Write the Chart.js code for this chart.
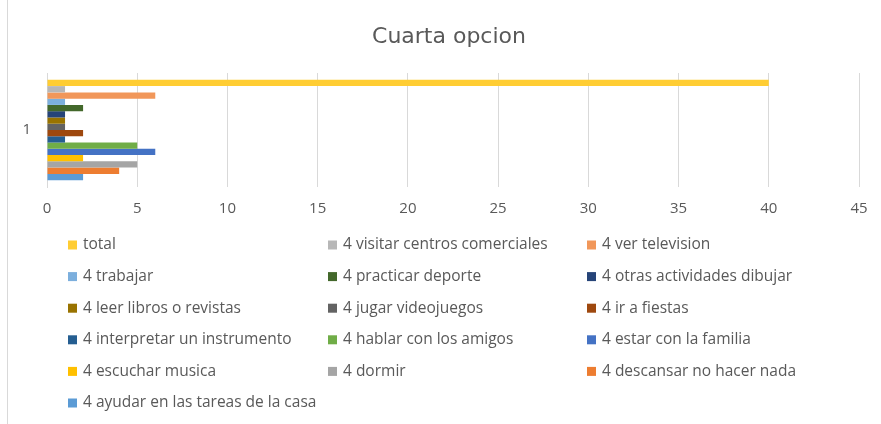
<!DOCTYPE html>
<html>
<head>
<meta charset="utf-8">
<script src="https://cdn.jsdelivr.net/npm/chart.js@4.4.1/dist/chart.umd.min.js"></script>
<style>
  html, body { margin: 0; padding: 0; background: #fff; }
  #wrap { width: 881px; height: 424px; position: relative; }
</style>
</head>
<body>
<div id="wrap"><canvas id="chart"></canvas></div>
<script>
// data
const chartTitle = "Cuarta opcion";
const categories = ["1"];
const seriesNames = [
  "total",
  "4 visitar centros comerciales",
  "4 ver television",
  "4 trabajar",
  "4 practicar deporte",
  "4 otras actividades dibujar",
  "4 leer libros o revistas",
  "4 jugar videojuegos",
  "4 ir a fiestas",
  "4 interpretar un instrumento",
  "4 hablar con los amigos",
  "4 estar con la familia",
  "4 escuchar musica",
  "4 dormir",
  "4 descansar no hacer nada",
  "4 ayudar en las tareas de la casa"
];
const seriesValues = [40, 1, 6, 1, 2, 1, 1, 1, 2, 1, 5, 6, 2, 5, 4, 2];
const seriesColors = [
  "#FFCD33", "#B7B7B7", "#F1975A", "#7CAFDD", "#43682B", "#264478",
  "#997300", "#636363", "#9E480E", "#255E91", "#70AD47", "#4472C4",
  "#FFC000", "#A5A5A5", "#ED7D31", "#5B9BD5"
];
const xTicks = [0, 5, 10, 15, 20, 25, 30, 35, 40, 45];

const textColor = "#595959";
const gridColor = "#d9d9d9";
const fontFamily = "'Open Sans', 'DejaVu Sans', sans-serif";

// title, legend in fixed columns like the original, plus the chart frame line
const gridLegend = {
  id: "gridLegend",
  beforeDraw(chart) {
    const ctx = chart.ctx;
    ctx.save();
    ctx.fillStyle = "#fff";
    ctx.fillRect(0, 0, chart.width, chart.height);
    ctx.strokeStyle = gridColor;
    ctx.lineWidth = 1;
    ctx.beginPath();
    ctx.moveTo(7.5, 0);
    ctx.lineTo(7.5, chart.height);
    ctx.stroke();
    ctx.restore();
  },
  afterDraw(chart) {
    const ctx = chart.ctx;
    ctx.save();
    ctx.fillStyle = textColor;
    ctx.font = "22px 'DejaVu Sans', sans-serif";
    ctx.textAlign = "center";
    ctx.textBaseline = "middle";
    ctx.fillText(chartTitle, 449, 37);

    const colX = [68, 328, 587];
    ctx.font = "15.5px " + fontFamily;
    ctx.textAlign = "left";
    chart.data.datasets.forEach((ds, i) => {
      const x = colX[i % 3];
      const y = 245 + Math.floor(i / 3) * 31.6;
      ctx.fillStyle = ds.backgroundColor;
      ctx.fillRect(x, y - 4.5, 9, 9);
      ctx.fillStyle = textColor;
      ctx.fillText(ds.label, x + 15, y);
    });
    ctx.restore();
  }
};

const datasets = seriesNames.map((name, i) => ({
  label: name,
  data: [seriesValues[i]],
  backgroundColor: seriesColors[i],
  borderWidth: 0,
  barPercentage: 1,
  categoryPercentage: 0.88
}));

new Chart(document.getElementById("chart"), {
  type: "bar",
  data: { labels: categories, datasets: datasets },
  plugins: [gridLegend],
  options: {
    indexAxis: "y",
    responsive: true,
    maintainAspectRatio: false,
    animation: false,
    layout: { padding: { left: 8, right: 22, top: 73, bottom: 0 } },
    scales: {
      x: {
        min: 0,
        max: 45,
        afterFit(scale) { scale.height = 237; },
        afterBuildTicks(scale) { scale.ticks = xTicks.map(v => ({ value: v })); },
        grid: { color: gridColor, drawTicks: false },
        border: { display: false },
        ticks: { color: textColor, padding: 13, font: { family: fontFamily, size: 15 } }
      },
      y: {
        afterFit(scale) { scale.width = 39; },
        grid: { display: false },
        border: { color: gridColor },
        ticks: { color: textColor, padding: 8, font: { family: fontFamily, size: 15 } }
      }
    },
    plugins: {
      legend: { display: false },
      tooltip: { enabled: false },
      title: { display: false }
    }
  }
});
</script>
</body>
</html>
